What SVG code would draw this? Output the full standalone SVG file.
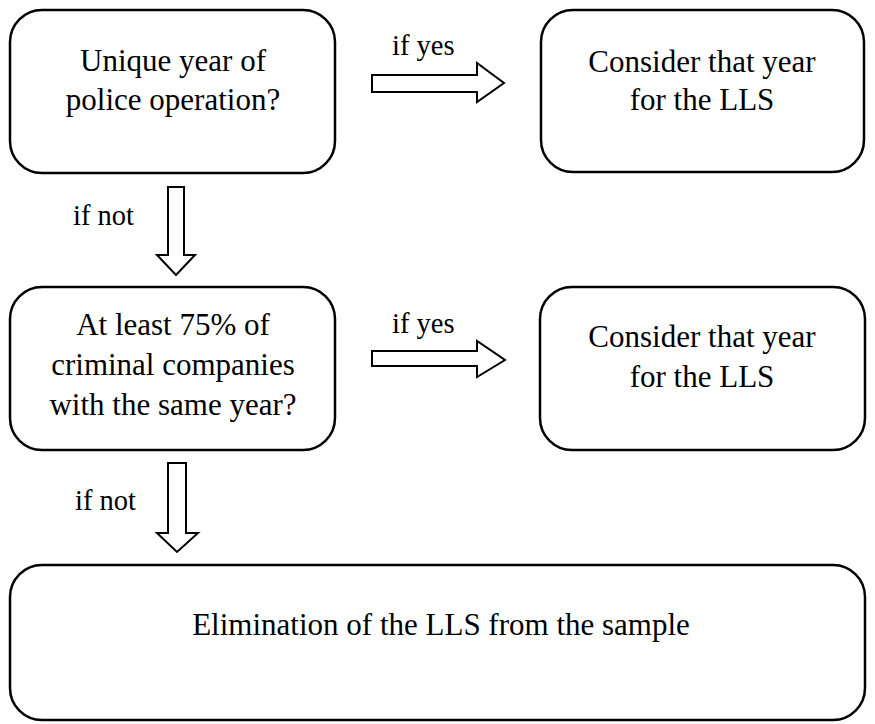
<svg xmlns="http://www.w3.org/2000/svg" width="875" height="724" viewBox="0 0 875 724">
<style>
.box{fill:#fff;stroke:#000;stroke-width:2.5}
.arr{fill:#fff;stroke:#000;stroke-width:2;stroke-linejoin:miter}
.t{font-size:31px;fill:#000;text-anchor:middle}
.l{font-size:28.5px;fill:#000}
</style>
<rect width="875" height="724" fill="#fff"/>
<g font-family="'Liberation Serif', 'Times New Roman', Times, serif">
<g id="connectors">
<polygon class="arr" points="372,75 477,75 477,63 504,83 477,102 477,92 372,92"/>
<text class="l" x="392" y="55">if yes</text>
<polygon class="arr" points="372,351 477,351 477,341 505,360 477,377 477,366 372,366"/>
<text class="l" x="392" y="333">if yes</text>
<polygon class="arr" points="168,187 184,187 184,255 195,255 176,275 157,255 168,255"/>
<text class="l" x="73" y="225">if not</text>
<polygon class="arr" points="168,463 186,463 186,533 198,533 177,552 157,533 168,533"/>
<text class="l" x="75" y="510">if not</text>
</g>
<g id="n1">
<rect class="box" x="10" y="10" width="325" height="163" rx="32"/>
<text class="t" x="173" y="71">Unique year of</text>
<text class="t" x="173" y="110">police operation?</text>
</g>
<g id="n2">
<rect class="box" x="541" y="10" width="323" height="162" rx="32"/>
<text class="t" x="702" y="72">Consider that year</text>
<text class="t" x="702" y="110">for the LLS</text>
</g>
<g id="n3">
<rect class="box" x="10" y="287" width="325" height="163" rx="32"/>
<text class="t" x="173" y="335">At least 75% of</text>
<text class="t" x="173" y="375">criminal companies</text>
<text class="t" x="173" y="415">with the same year?</text>
</g>
<g id="n4">
<rect class="box" x="540" y="287" width="325" height="163" rx="32"/>
<text class="t" x="702" y="347">Consider that year</text>
<text class="t" x="702" y="387">for the LLS</text>
</g>
<g id="n5">
<rect class="box" x="10" y="565" width="855" height="155" rx="32"/>
<text class="t" x="441" y="635">Elimination of the LLS from the sample</text>
</g>
</g>
</svg>
